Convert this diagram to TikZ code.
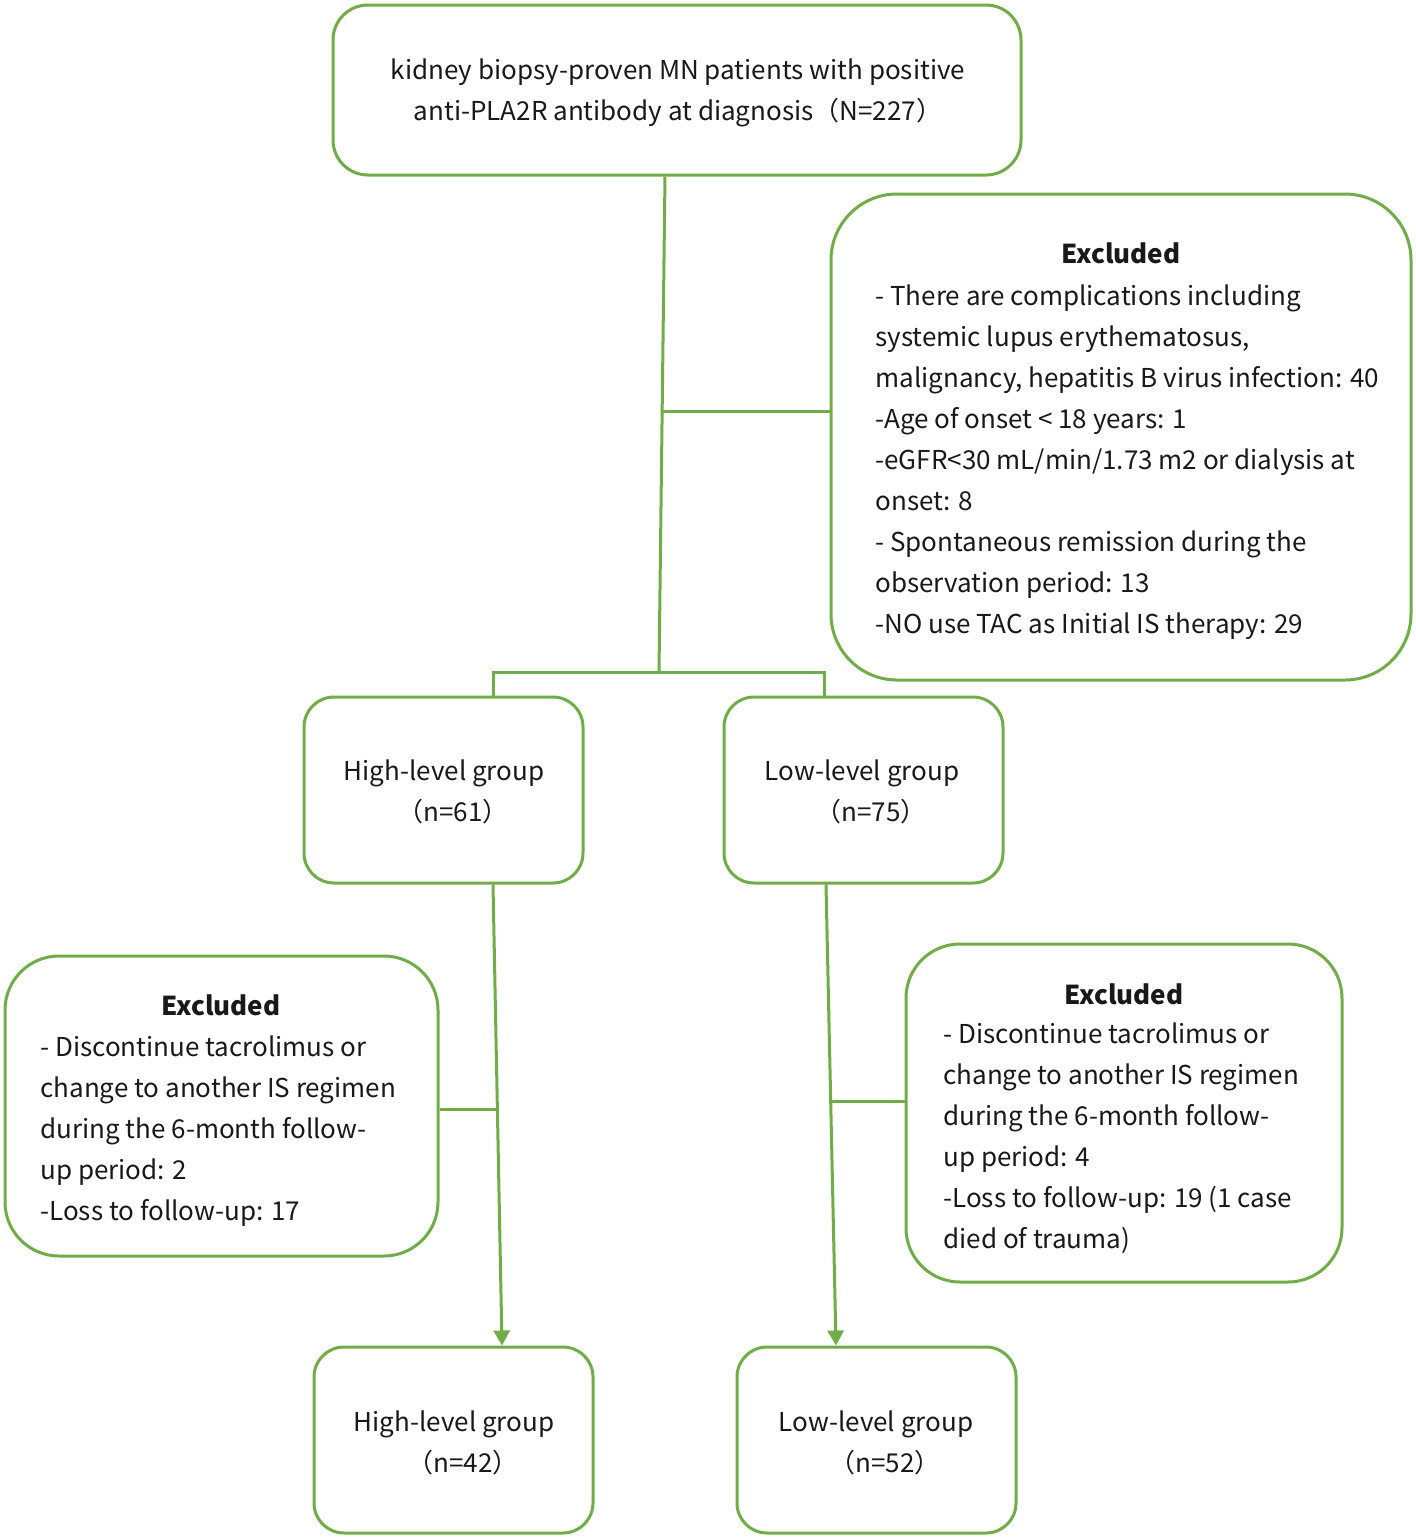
\documentclass[tikz,border=0pt]{standalone}
\usepackage{fontspec}
\setmainfont{Noto Sans CJK SC}
\usetikzlibrary{arrows.meta,calc}
\definecolor{gline}{RGB}{112,173,71}
\definecolor{txt}{RGB}{25,25,25}
\begin{document}
\begin{tikzpicture}[x=0.5pt,y=-0.5pt,
  box/.style={draw=gline,line width=1.5pt,rounded corners=#1,inner sep=0pt},
  box/.default=15pt,
  lbl/.style={text=txt,font=\fontsize{13}{20.5}\selectfont,inner sep=0pt},
  conn/.style={draw=gline,line width=1.5pt},
  arr/.style={conn,-{Triangle[width=8pt,length=7.5pt]}}]
\useasboundingbox[fill=white] (0,0) rectangle (1416,1539);
% boxes
\node[box=17.5pt,minimum width=344pt,minimum height=85pt] (top) at (677,90) {};
\node[box=33pt,minimum width=290pt,minimum height=243pt] (ex1) at (1121,437) {};
\node[box,minimum width=139.5pt,minimum height=93pt] (hi1) at (443.5,790) {};
\node[box,minimum width=139.5pt,minimum height=93pt] (lo1) at (863.5,790) {};
\node[box=27pt,minimum width=216.5pt,minimum height=150pt] (ex2) at (221.5,1106) {};
\node[box=27pt,minimum width=218pt,minimum height=169pt] (ex3) at (1124,1113) {};
\node[box,minimum width=139.5pt,minimum height=93pt] (hi2) at (453.5,1440) {};
\node[box,minimum width=139.5pt,minimum height=93pt] (lo2) at (876.5,1440) {};
% texts
\node[lbl,align=center] (ttop) at (678,93) {kidney biopsy-proven MN patients with positive\\anti-PLA2R antibody at diagnosis（N=227）};
\node[lbl,font=\fontsize{13}{20.5}\selectfont\bfseries] (tex1) at (1121,253) {Excluded};
\node[lbl,align=left,anchor=north west] (bex1) at (875,284) {- There are complications including\\systemic lupus erythematosus,\\malignancy, hepatitis B virus infection: 40\\-Age of onset < 18 years: 1\\-eGFR<30 mL/min/1.73 m2 or dialysis at\\onset: 8\\- Spontaneous remission during the\\observation period: 13\\-NO use TAC as Initial IS therapy: 29};
\node[lbl,align=center] (thi1) at (444,792) {High-level group\\\hspace*{9pt}（n=61）};
\node[lbl,align=center] (tlo1) at (862,792) {Low-level group\\\hspace*{9pt}（n=75）};
\node[lbl,font=\fontsize{13}{20.5}\selectfont\bfseries] (tex2) at (221,1005) {Excluded};
\node[lbl,align=left,anchor=north west] (bex2) at (40,1035) {- Discontinue tacrolimus or\\change to another IS regimen\\during the 6-month follow-\\up period: 2\\-Loss to follow-up: 17};
\node[lbl,font=\fontsize{13}{20.5}\selectfont\bfseries] (tex3) at (1124,994) {Excluded};
\node[lbl,align=left,anchor=north west] (bex3) at (943,1022) {- Discontinue tacrolimus or\\change to another IS regimen\\during the 6-month follow-\\up period: 4\\-Loss to follow-up: 19 (1 case\\died of trauma)};
\node[lbl,align=center] (thi2) at (454,1443) {High-level group\\\hspace*{9pt}（n=42）};
\node[lbl,align=center] (tlo2) at (876,1443) {Low-level group\\\hspace*{9pt}（n=52）};
% connectors
\coordinate (j0) at (659,672);
\coordinate (jl) at (493,672);
\coordinate (jr) at (824,672);
\coordinate (b1) at (661,411);
\coordinate (b2) at (497,1109);
\coordinate (b3) at (832,1101);
\draw[conn] ([xshift=-6pt]top.south) -- (j0);
\draw[conn] (b1) -- (b1 -| ex1.west);
\draw[conn] ([xshift=24.75pt]hi1.north) -- (jl) -- (jr) -- ([xshift=-19.75pt]lo1.north);
\draw[arr] ([xshift=24.75pt]hi1.south) -- ([xshift=24.25pt]hi2.north);
\draw[conn] (b2) -- (b2 -| ex2.east);
\draw[arr] ([xshift=-18.75pt]lo1.south) -- ([xshift=-20.25pt]lo2.north);
\draw[conn] (b3) -- (b3 -| ex3.west);
\end{tikzpicture}
\end{document}
